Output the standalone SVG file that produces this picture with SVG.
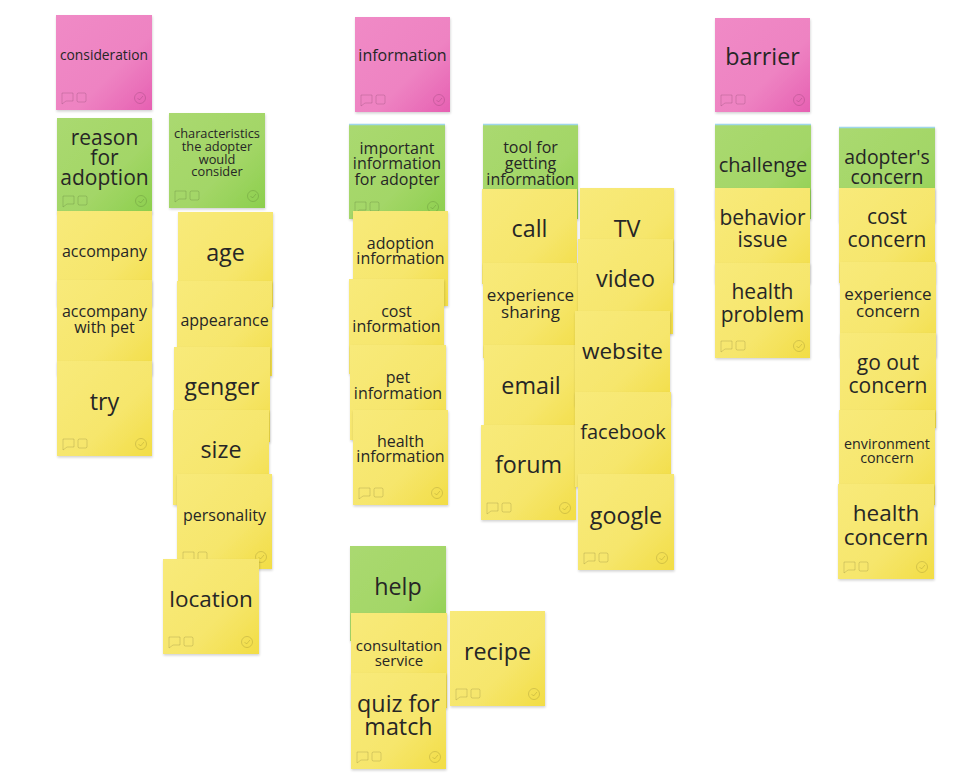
<svg xmlns="http://www.w3.org/2000/svg" xmlns:xlink="http://www.w3.org/1999/xlink" width="958" height="779" viewBox="0 0 958 779">
<defs>
<linearGradient id="gY" x1="0" y1="0" x2="1" y2="1">
<stop offset="0" stop-color="#f8ea7a"/><stop offset="0.6" stop-color="#f6e66c"/><stop offset="1" stop-color="#f2dd45"/>
</linearGradient>
<linearGradient id="gG" x1="0" y1="0" x2="1" y2="1">
<stop offset="0" stop-color="#aad970"/><stop offset="0.6" stop-color="#a3d667"/><stop offset="1" stop-color="#8ccf4d"/>
</linearGradient>
<linearGradient id="gP" x1="0" y1="0" x2="1" y2="1">
<stop offset="0" stop-color="#f08ac6"/><stop offset="0.6" stop-color="#ee83c2"/><stop offset="1" stop-color="#e660b2"/>
</linearGradient>
<filter id="sh" x="-10%" y="-10%" width="130%" height="130%">
<feDropShadow dx="0.5" dy="1.5" stdDeviation="1.2" flood-color="#000" flood-opacity="0.18"/>
</filter>
<symbol id="foot" overflow="visible">
<g fill="none" stroke="#000" stroke-opacity="0.13" stroke-width="1">
<path d="M6,-17 h11 v8 h-7 l-4,3 z"/>
<rect x="21" y="-17" width="9" height="9" rx="1.5"/>
<circle cx="84" cy="-12" r="5.5"/>
<path d="M81.5,-12 l2,2 l3.5,-4"/>
</g>
</symbol>
<style>
.y{fill:url(#gY);filter:url(#sh)}
.g{fill:url(#gG);filter:url(#sh)}
.p{fill:url(#gP);filter:url(#sh)}
text{font-family:"Open Sans","Noto Sans","DejaVu Sans",sans-serif;fill:#262626;text-anchor:middle;dominant-baseline:central}
.s13{font-size:13.8px}.s12{font-size:12.8px}.s14{font-size:15px}.s14b{font-size:14.3px}.s15{font-size:16px}.s16{font-size:17px}
.s18{font-size:19.4px}.s19{font-size:20px}.s20{font-size:21px}.s21{font-size:22.5px}.s22{font-size:23.3px}
.bl{stroke:#9fd6ea;stroke-width:1.5}
</style>
</defs>

<!-- Column 1 -->
<g id="consideration"><rect class="p" x="56" y="15" width="96" height="95"/><text class="s13" x="104" y="54">consideration</text><use href="#foot" x="56" y="110"/></g>
<g id="reason-for-adoption"><rect class="g" x="57" y="118" width="95" height="95"/><text class="s20" x="104.5" y="137">reason</text><text class="s20" x="104.5" y="157">for</text><text class="s20" x="104.5" y="177">adoption</text><use href="#foot" x="57" y="213"/></g>
<g id="accompany"><rect class="y" x="57" y="211" width="95" height="95"/><text class="s15" x="104.5" y="251">accompany</text></g>
<g id="accompany-with-pet"><rect class="y" x="57" y="280" width="95" height="95"/><text class="s15" x="104.5" y="311">accompany</text><text class="s15" x="104.5" y="327">with pet</text></g>
<g id="try"><rect class="y" x="57" y="361" width="95" height="95"/><text class="s22" x="104.5" y="401">try</text><use href="#foot" x="57" y="456"/></g>

<!-- Column 2 -->
<g id="characteristics"><rect class="g" x="169" y="113" width="96" height="95"/><text class="s12" x="217" y="133">characteristics</text><text class="s12" x="217" y="146">the adopter</text><text class="s12" x="217" y="159">would</text><text class="s12" x="217" y="171">consider</text><use href="#foot" x="169" y="208"/></g>
<g id="age"><rect class="y" x="178" y="212" width="95" height="95"/><text class="s22" x="225.5" y="252">age</text></g>
<g id="appearance"><rect class="y" x="177" y="281" width="95" height="95"/><text class="s15" x="224.5" y="320">appearance</text></g>
<g id="genger"><rect class="y" x="174" y="347" width="96" height="95"/><text class="s22" x="222" y="386">genger</text></g>
<g id="size"><rect class="y" x="173" y="410" width="96" height="95"/><text class="s22" x="221" y="449">size</text></g>
<g id="personality"><rect class="y" x="177" y="474" width="95" height="95"/><text class="s15" x="224.5" y="515">personality</text><use href="#foot" x="177" y="569"/></g>
<g id="location"><rect class="y" x="163" y="559" width="96" height="95"/><text class="s21" x="211" y="598">location</text><use href="#foot" x="163" y="654"/></g>

<!-- Column 3 -->
<g id="information"><rect class="p" x="355" y="17" width="95" height="95"/><text class="s15" x="402.5" y="55">information</text><use href="#foot" x="355" y="112"/></g>
<g id="important-information"><rect class="g" x="349" y="124" width="96" height="95"/><line class="bl" x1="349" y1="124.5" x2="445" y2="124.5"/><text class="s15" x="397" y="148">important</text><text class="s15" x="397" y="163">information</text><text class="s15" x="397" y="179">for adopter</text><use href="#foot" x="349" y="219"/></g>
<g id="adoption-information"><rect class="y" x="353" y="211" width="95" height="95"/><text class="s15" x="400.5" y="243">adoption</text><text class="s15" x="400.5" y="258">information</text></g>
<g id="cost-information"><rect class="y" x="349" y="279" width="95" height="95"/><text class="s15" x="396.5" y="311">cost</text><text class="s15" x="396.5" y="326">information</text></g>
<g id="pet-information"><rect class="y" x="350" y="345" width="96" height="95"/><text class="s15" x="398" y="377">pet</text><text class="s15" x="398" y="393">information</text></g>
<g id="health-information"><rect class="y" x="353" y="410" width="95" height="95"/><text class="s15" x="400.5" y="441">health</text><text class="s15" x="400.5" y="456">information</text><use href="#foot" x="353" y="505"/></g>

<!-- Column 4 -->
<g id="tool-for-getting-information"><rect class="g" x="483" y="124" width="95" height="95"/><line class="bl" x1="483" y1="124.5" x2="578" y2="124.5"/><text class="s15" x="530.5" y="147">tool for</text><text class="s15" x="530.5" y="163">getting</text><text class="s15" x="530.5" y="179">information</text></g>
<g id="call"><rect class="y" x="482" y="189" width="95" height="95"/><text class="s22" x="529.5" y="228">call</text></g>
<g id="experience-sharing"><rect class="y" x="483" y="263" width="95" height="95"/><text class="s16" x="530.5" y="294">experience</text><text class="s16" x="530.5" y="311">sharing</text></g>
<g id="email"><rect class="y" x="484" y="345" width="94" height="95"/><text class="s22" x="531" y="385">email</text></g>
<g id="forum"><rect class="y" x="481" y="425" width="95" height="95"/><text class="s22" x="528.5" y="464">forum</text><use href="#foot" x="481" y="520"/></g>

<!-- Column 5 -->
<g id="tv"><rect class="y" x="580" y="188" width="94" height="95"/><text class="s22" x="627" y="228">TV</text></g>
<g id="video"><rect class="y" x="578" y="239" width="95" height="95"/><text class="s22" x="625.5" y="278">video</text></g>
<g id="website"><rect class="y" x="575" y="311" width="95" height="95"/><text class="s21" x="622.5" y="350">website</text></g>
<g id="facebook"><rect class="y" x="575" y="392" width="96" height="95"/><text class="s19" x="623" y="431">facebook</text></g>
<g id="google"><rect class="y" x="578" y="474" width="96" height="96"/><text class="s22" x="626" y="515">google</text><use href="#foot" x="578" y="570"/></g>

<!-- Column 6 -->
<g id="barrier"><rect class="p" x="715" y="18" width="95" height="94"/><text class="s22" x="762.5" y="56">barrier</text><use href="#foot" x="715" y="112"/></g>
<g id="challenge"><rect class="g" x="715" y="124" width="96" height="95"/><line class="bl" x1="715" y1="124.5" x2="811" y2="124.5"/><text class="s19" x="763" y="164">challenge</text></g>
<g id="behavior-issue"><rect class="y" x="715" y="188" width="95" height="95"/><text class="s20" x="762.5" y="217">behavior</text><text class="s20" x="762.5" y="239">issue</text></g>
<g id="health-problem"><rect class="y" x="715" y="263" width="95" height="95"/><text class="s20" x="762.5" y="291">health</text><text class="s20" x="762.5" y="314">problem</text><use href="#foot" x="715" y="358"/></g>

<!-- Column 7 -->
<g id="adopters-concern"><rect class="g" x="839" y="127" width="96" height="95"/><line class="bl" x1="839" y1="127.5" x2="935" y2="127.5"/><text class="s18" x="887" y="156">adopter's</text><text class="s18" x="887" y="176">concern</text></g>
<g id="cost-concern"><rect class="y" x="839" y="188" width="96" height="95"/><text class="s20" x="887" y="216">cost</text><text class="s20" x="887" y="239">concern</text></g>
<g id="experience-concern"><rect class="y" x="840" y="262" width="96" height="95"/><text class="s16" x="888" y="293">experience</text><text class="s16" x="888" y="310">concern</text></g>
<g id="go-out-concern"><rect class="y" x="840" y="333" width="96" height="95"/><text class="s20" x="888" y="362">go out</text><text class="s20" x="888" y="385">concern</text></g>
<g id="environment-concern"><rect class="y" x="839" y="410" width="96" height="95"/><text class="s14b" x="887" y="443">environment</text><text class="s14b" x="887" y="457">concern</text></g>
<g id="health-concern"><rect class="y" x="838" y="484" width="96" height="95"/><text class="s21" x="886" y="512">health</text><text class="s21" x="886" y="536">concern</text><use href="#foot" x="838" y="579"/></g>

<!-- Bottom group -->
<g id="help"><rect class="g" x="350" y="546" width="96" height="95"/><text class="s22" x="398" y="586">help</text></g>
<g id="consultation-service"><rect class="y" x="351" y="613" width="96" height="95"/><text class="s14" x="399" y="645">consultation</text><text class="s14" x="399" y="660">service</text></g>
<g id="recipe"><rect class="y" x="450" y="611" width="95" height="95"/><text class="s22" x="497.5" y="651">recipe</text><use href="#foot" x="450" y="706"/></g>
<g id="quiz-for-match"><rect class="y" x="351" y="673" width="95" height="96"/><text class="s22" x="398.5" y="703">quiz for</text><text class="s22" x="398.5" y="726">match</text><use href="#foot" x="351" y="769"/></g>

<g id="connectors"></g>
</svg>
